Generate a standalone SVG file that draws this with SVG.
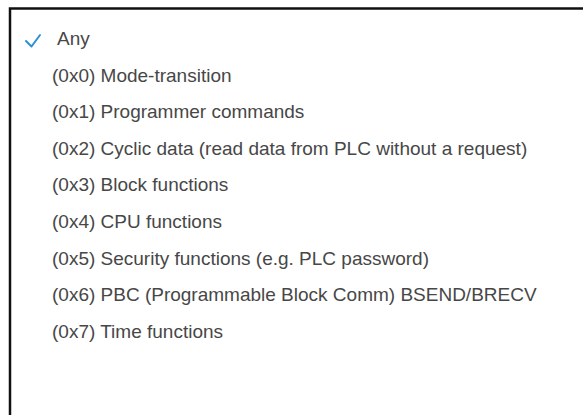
<svg xmlns="http://www.w3.org/2000/svg" width="583" height="415" viewBox="0 0 583 415">
<style>
.t{font-family:"Liberation Sans",Arial,sans-serif;font-size:19px;fill:#474747}
.b{stroke:#111;stroke-width:2.5;fill:none}
</style>
<rect width="583" height="415" fill="#fff"/>
<g id="frame">
<path class="b" d="M10,415 V8.5 H583"/>
</g>
<g id="item-any">
<path d="M26,41 L31.5,46.5 L40,35" fill="none" stroke="#2d8fd5" stroke-width="2" stroke-linecap="round" stroke-linejoin="round"/>
<text class="t" x="57" y="45">Any</text>
</g>
<g id="item-0">
<text class="t" x="52" y="82">(0x0) Mode-transition</text>
</g>
<g id="item-1">
<text class="t" x="52" y="118">(0x1) Programmer commands</text>
</g>
<g id="item-2">
<text class="t" x="52" y="155">(0x2) Cyclic data (read data from PLC without a request)</text>
</g>
<g id="item-3">
<text class="t" x="52" y="191">(0x3) Block functions</text>
</g>
<g id="item-4">
<text class="t" x="52" y="228">(0x4) CPU functions</text>
</g>
<g id="item-5">
<text class="t" x="52" y="265">(0x5) Security functions (e.g. PLC password)</text>
</g>
<g id="item-6">
<text class="t" x="52" y="301">(0x6) PBC (Programmable Block Comm) BSEND/BRECV</text>
</g>
<g id="item-7">
<text class="t" x="52" y="338">(0x7) Time functions</text>
</g>
<g id="connectors"/>
</svg>
